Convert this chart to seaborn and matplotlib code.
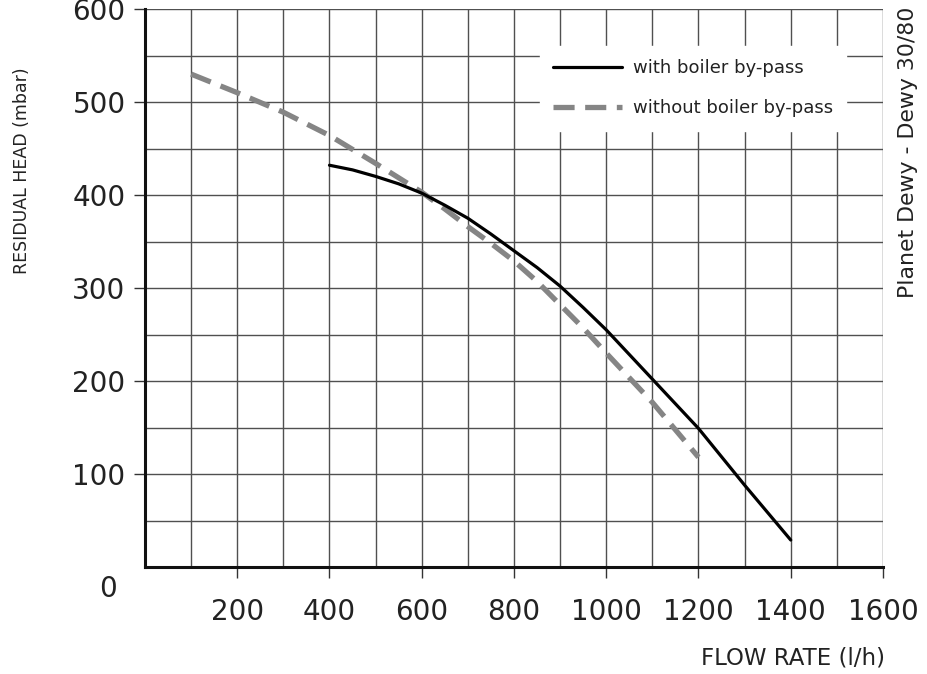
import matplotlib
matplotlib.use("Agg")
import matplotlib.pyplot as plt
import seaborn as sns
import numpy as np
from matplotlib.ticker import MultipleLocator, FixedLocator

sns.set_theme(style="white")
plt.rcParams['font.family'] = ['DejaVu Sans']

# data
with_x = [400, 450, 500, 550, 600, 650, 700, 750, 800, 850, 900, 950, 1000, 1100, 1200, 1300, 1400]
with_y = [432, 427, 420, 412, 402, 389, 375, 358, 340, 322, 302, 279, 255, 202, 149, 88, 29]
without_x = [100, 200, 300, 400, 500, 600, 650, 700, 750, 800, 850, 900, 950, 1000, 1100, 1200]
without_y = [530, 510, 489, 464, 434, 403, 385, 366, 348, 329, 307, 282, 257, 230, 177, 118]

labels = ["with boiler by-pass", "without boiler by-pass"]
x_ticks = [200, 400, 600, 800, 1000, 1200, 1400, 1600]
y_ticks = [100, 200, 300, 400, 500, 600]

txt = '#222222'

fig = plt.figure(figsize=(9.28, 6.74), dpi=100)
ax = fig.add_axes([145/928, 1-567/674, 738/928, 558/674])

sns.lineplot(x=with_x, y=with_y, ax=ax, color='black', lw=2.3, label=labels[0], zorder=4)
sns.lineplot(x=without_x, y=without_y, ax=ax, color='#858585', lw=3.8, label=labels[1], zorder=3)
ax.lines[1].set_linestyle((0, (4, 2)))

ax.set_xlim(0, 1600)
ax.set_ylim(0, 600)
ax.xaxis.set_major_locator(FixedLocator(x_ticks))
ax.yaxis.set_major_locator(FixedLocator(y_ticks))
ax.xaxis.set_minor_locator(MultipleLocator(100))
ax.yaxis.set_minor_locator(MultipleLocator(50))
ax.grid(which='both', color='#505050', lw=1.0)
ax.set_axisbelow(True)
ax.tick_params(which='major', direction='out', length=8, width=1.0, color='#333333',
               labelsize=20, labelcolor=txt, bottom=True, left=True)
ax.tick_params(axis='x', which='major', pad=14)
ax.tick_params(axis='y', which='major', pad=6)
ax.tick_params(which='minor', length=0)

for s in ['top', 'right']:
    ax.spines[s].set_visible(False)
for s in ['left', 'bottom']:
    ax.spines[s].set_color('#111111')
    ax.spines[s].set_linewidth(2.2)

ax.set_xlabel('')
ax.set_ylabel('')
ax.text(-0.05, -0.04, '0', transform=ax.transAxes, ha='center', va='center',
        fontsize=20, color=txt)

leg = ax.legend(loc='upper left', bbox_to_anchor=(0.535, 0.934), frameon=True,
                facecolor='white', edgecolor='white', framealpha=1, fancybox=False,
                handlelength=3.8, handletextpad=0.6, labelspacing=1.2, borderpad=0.75,
                borderaxespad=0, prop={'size': 13})
for t in leg.get_texts():
    t.set_color(txt)
leg.set_zorder(5)

fig.text(22/928, 1-171/674, 'RESIDUAL HEAD (mbar)', rotation=90, ha='center', va='center',
         fontsize=12.5, color=txt)
fig.text(885/928, 1-658/674, 'FLOW RATE (l/h)', ha='right', va='center',
         fontsize=16.5, color=txt)
fig.text(908/928, 1-152/674, 'Planet Dewy - Dewy 30/80', rotation=90, ha='center', va='center',
         fontsize=15.8, color=txt)

fig.savefig('out.png', dpi=100)
